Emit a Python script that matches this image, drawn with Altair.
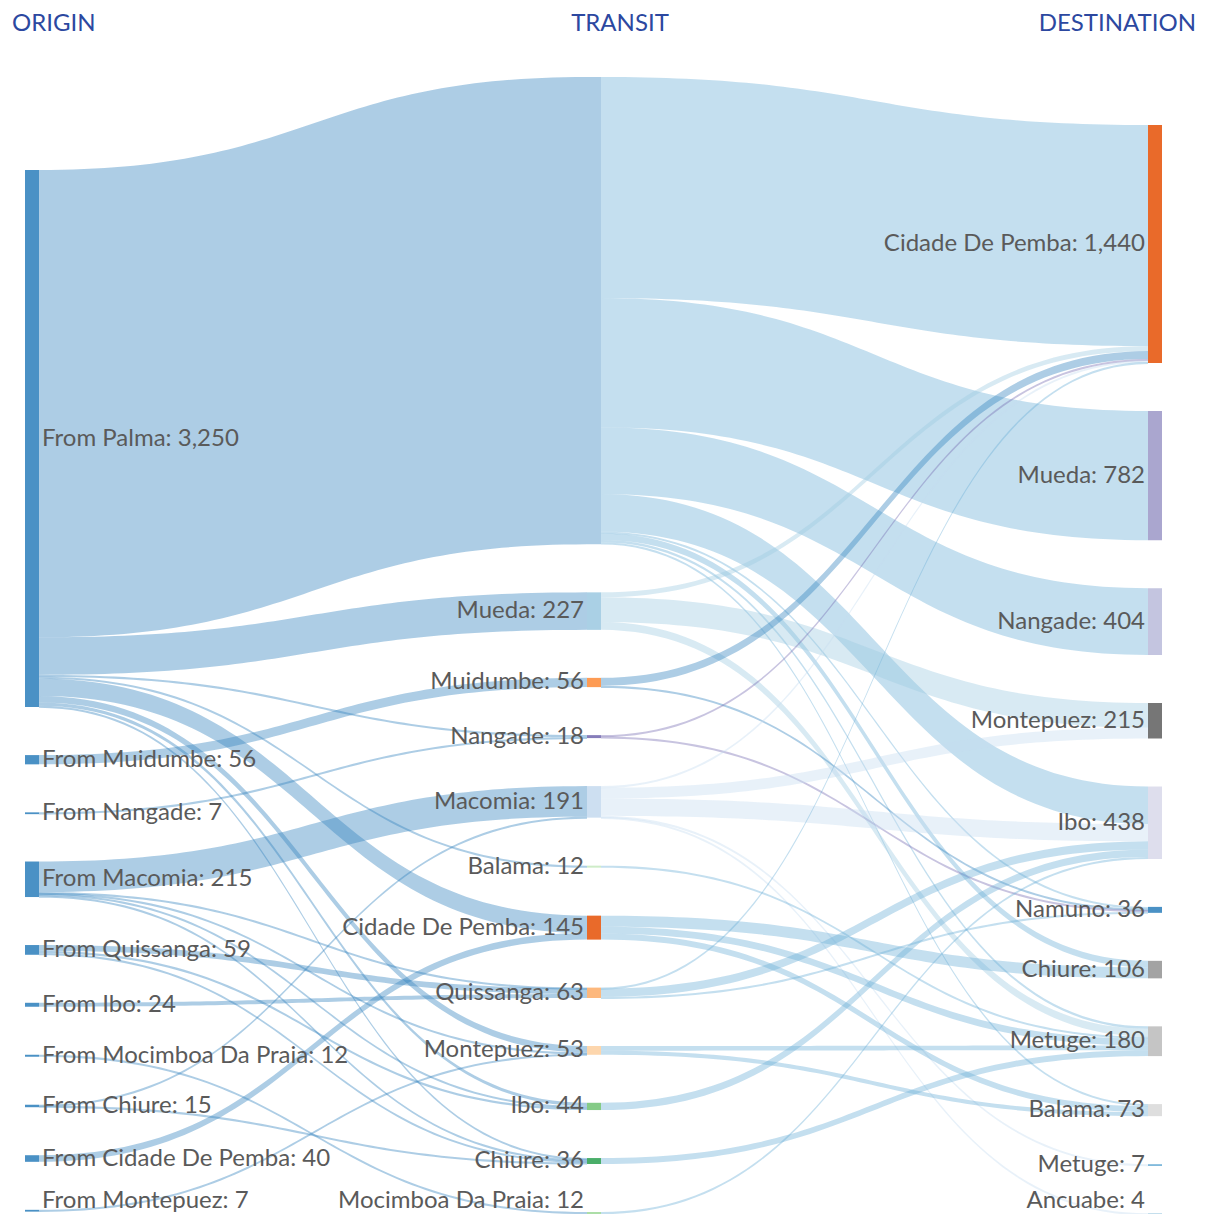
import altair as alt
import pandas as pd
import numpy as np

# ---------------- data ----------------
origin = ["From Palma", "From Muidumbe", "From Nangade", "From Macomia", "From Quissanga",
          "From Ibo", "From Mocimboa Da Praia", "From Chiure", "From Cidade De Pemba", "From Montepuez"]
transit = ["", "Mueda", "Muidumbe", "Nangade", "Macomia", "Balama", "Cidade De Pemba",
           "Quissanga", "Montepuez", "Ibo", "Chiure", "Mocimboa Da Praia"]
destination = ["Cidade De Pemba", "Mueda", "Nangade", "Montepuez", "Ibo", "Namuno", "Chiure",
               "Metuge", "Balama", "Metuge", "Ancuabe"]

origin_colors = ["#3182bd"] * 10
transit_colors = ["#3182bd", "#9ecae1", "#fd8d3c", "#756bb1", "#c6dbef", "#c7e9c0", "#e6550d",
                  "#fdae6b", "#fdd0a2", "#74c476", "#31a354", "#a1d99b"]
destination_colors = ["#e6550d", "#9e9ac8", "#bcbddc", "#636363", "#dadaeb", "#3182bd", "#969696",
                      "#bdbdbd", "#d9d9d9", "#6baed6", "#9ecae1"]
transit_link_colors = ["#6baed6", "#9ecae1", "#3182bd", "#756bb1", "#c6dbef", "#6baed6", "#6baed6",
                       "#6baed6", "#6baed6", "#6baed6", "#6baed6", "#6baed6"]

# origin -> transit
s1_src = [0, 0, 0, 0, 0, 0, 0, 0, 1, 2, 3, 3, 3, 3, 3, 4, 4, 4, 5, 6, 7, 7, 8, 9]
s1_tgt = [0, 1, 3, 5, 6, 8, 9, 10, 2, 3, 4, 7, 8, 9, 10, 7, 9, 10, 7, 11, 4, 10, 6, 8]
s1_val = [2828, 227, 11, 12, 105, 39, 20, 8, 56, 7, 185, 4, 7, 10, 9, 35, 14, 10, 24, 12, 6, 9, 40, 7]

# transit -> destination
s2_src = [0, 0, 0, 0, 0, 0, 0, 0, 1, 1, 1, 2, 2, 3, 3, 4, 4, 4, 4, 4, 5, 6, 6, 6, 7, 7, 7, 8, 8, 9, 10, 11]
s2_tgt = [0, 1, 2, 4, 5, 6, 7, 8, 0, 3, 7, 0, 5, 0, 5, 0, 3, 4, 9, 10, 7, 6, 7, 8, 0, 4, 5, 7, 8, 4, 7, 4]
s2_val = [1338, 782, 404, 227, 11, 39, 15, 12, 30, 150, 47, 48, 8, 8, 10, 10, 65, 105, 7, 4, 12,
          67, 42, 36, 6, 50, 7, 28, 25, 44, 36, 12]

headers = ["ORIGIN", "TRANSIT", "DESTINATION"]

# ---------------- layout (sankey) ----------------
W, H = 1189, 1206
k = 0.16526          # px per person
pad = 48             # px between nodes
node_w = 14
col_left = [25, 587, 1148]
col_top = [170, 77, 125]
label_max_y = 8 + H - 13   # keep the lowest labels inside the drawing

names = [origin, transit, destination]
colors = [origin_colors, transit_colors, destination_colors]
vals = [np.zeros(len(origin)), np.zeros(len(transit)), np.zeros(len(destination))]
for s, v in zip(s1_src, s1_val):
    vals[0][s] += v
for t, v in zip(s1_tgt, s1_val):
    vals[1][t] += v
for t, v in zip(s2_tgt, s2_val):
    vals[2][t] += v

node_y = []
for c in range(3):
    ys, y = [], col_top[c]
    for v in vals[c]:
        ys.append(y)
        y += v * k + pad
    node_y.append(ys)

nodes = []
for c in range(3):
    for i, nm in enumerate(names[c]):
        h = max(vals[c][i] * k, 1.8)
        big_hidden = (c == 1 and i == 0)
        nodes.append(dict(x=col_left[c], x2=col_left[c] + node_w, y=node_y[c][i], y2=node_y[c][i] + h,
                          color=colors[c][i], op=0.4 if big_hidden else 0.88))
nodes_df = pd.DataFrame(nodes)

labels = []
for c in range(3):
    for i, nm in enumerate(names[c]):
        if not nm:
            continue
        h = vals[c][i] * k
        yc = min(node_y[c][i] + h / 2, label_max_y)
        txt = f"{nm}: {int(vals[c][i]):,}"
        if c == 0:
            labels.append(dict(x=col_left[c] + node_w + 3, y=yc, text=txt, al="left"))
        else:
            labels.append(dict(x=col_left[c] - 3, y=yc, text=txt, al="right"))
lab_df = pd.DataFrame(labels)

def build_links(src, tgt, val, c_src, c_tgt, colfun):
    n = len(val)
    sy = [0.0] * n
    ty = [0.0] * n
    for s in set(src):
        idx = sorted([j for j in range(n) if src[j] == s], key=lambda j: tgt[j])
        off = node_y[c_src][s]
        for j in idx:
            sy[j] = off
            off += val[j] * k
    for t in set(tgt):
        idx = sorted([j for j in range(n) if tgt[j] == t], key=lambda j: src[j])
        off = node_y[c_tgt][t]
        for j in idx:
            ty[j] = off
            off += val[j] * k
    rows = []
    x0 = col_left[c_src] + node_w
    x1 = col_left[c_tgt]
    xm = (x0 + x1) / 2
    ts = np.linspace(0, 1, 70)
    for j in range(n):
        w = max(val[j] * k, 2.1)
        for t in ts:
            xt = x0 * (1 - t) ** 3 + 3 * xm * (1 - t) ** 2 * t + 3 * xm * (1 - t) * t ** 2 + x1 * t ** 3
            st = 3 * t ** 2 - 2 * t ** 3
            yt = sy[j] + (ty[j] - sy[j]) * st
            rows.append(dict(link=f"{c_src}-{j}", x=xt, y=yt, y2=yt + w, color=colfun(src[j])))
    return rows

links = build_links(s1_src, s1_tgt, s1_val, 0, 1, lambda s: "#3182bd")
links += build_links(s2_src, s2_tgt, s2_val, 1, 2, lambda s: transit_link_colors[s])
links_df = pd.DataFrame(links)

hdr_df = pd.DataFrame(dict(text=headers, x=[12, 620, 1196], y=[24, 24, 24], al=["left", "center", "right"]))

xs = alt.Scale(domain=[8, 8 + W], nice=False, zero=False)
ys = alt.Scale(domain=[8 + H, 8], nice=False, zero=False)

link_layer = alt.Chart(links_df).mark_area(fillOpacity=0.4, interpolate="linear").encode(
    x=alt.X("x:Q", scale=xs, axis=None),
    y=alt.Y("y:Q", scale=ys, axis=None),
    y2="y2:Q",
    detail="link:N",
    color=alt.Color("color:N", scale=None),
)

node_layer = alt.Chart(nodes_df).mark_rect().encode(
    x=alt.X("x:Q", scale=xs, axis=None), x2="x2:Q",
    y=alt.Y("y:Q", scale=ys, axis=None), y2="y2:Q",
    color=alt.Color("color:N", scale=None),
    opacity=alt.Opacity("op:Q", scale=None),
)

font = "Lato"
lab_left = alt.Chart(lab_df[lab_df.al == "left"]).mark_text(
    align="left", baseline="middle", font=font, fontSize=24, color="#5a5a5a"
).encode(x=alt.X("x:Q", scale=xs, axis=None), y=alt.Y("y:Q", scale=ys, axis=None), text="text:N")
lab_right = alt.Chart(lab_df[lab_df.al == "right"]).mark_text(
    align="right", baseline="middle", font=font, fontSize=24, color="#5a5a5a"
).encode(x=alt.X("x:Q", scale=xs, axis=None), y=alt.Y("y:Q", scale=ys, axis=None), text="text:N")

hdrs = []
for al in ["left", "center", "right"]:
    hdrs.append(alt.Chart(hdr_df[hdr_df.al == al]).mark_text(
        align=al, baseline="middle", font=font, fontSize=24, color="#2c48a0"
    ).encode(x=alt.X("x:Q", scale=xs, axis=None), y=alt.Y("y:Q", scale=ys, axis=None), text="text:N"))

chart = alt.layer(link_layer, node_layer, lab_left, lab_right, *hdrs).properties(
    width=W, height=H, padding=0, autosize=alt.AutoSizeParams(type="none"), background="white"
).configure_view(stroke=None)

chart.save("out.html", embed_options={"renderer": "svg", "actions": False})
